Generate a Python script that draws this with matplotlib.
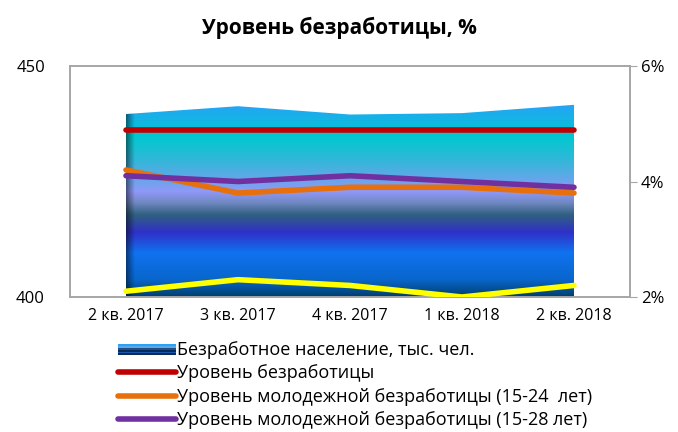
import numpy as np
import matplotlib
matplotlib.use("Agg")
import matplotlib.pyplot as plt
from matplotlib.colors import LinearSegmentedColormap
from matplotlib.legend_handler import HandlerBase
from matplotlib.lines import Line2D
from matplotlib.patches import Rectangle, Polygon

plt.rcParams["font.family"] = ["Open Sans", "DejaVu Sans"]

quarters = ["2 кв. 2017", "3 кв. 2017", "4 кв. 2017", "1 кв. 2018", "2 кв. 2018"]
unemployed = [439.6, 441.3, 439.5, 439.8, 441.6]      # тыс. чел., left axis
rate_total = [4.9, 4.9, 4.9, 4.9, 4.9]                # %, right axis
rate_15_24 = [4.2, 3.8, 3.9, 3.9, 3.8]
rate_15_28 = [4.1, 4.0, 4.1, 4.0, 3.9]
rate_other = [2.1, 2.3, 2.2, 2.0, 2.2]

labels = ["Безработное население, тыс. чел.", "Уровень безработицы",
          "Уровень молодежной безработицы (15-24  лет)",
          "Уровень молодежной безработицы (15-28 лет)"]

# vertical gradient of the area fill, (value on left axis, colour)
grad_stops = [(400.0, "#003f6e"), (403.7, "#0866cc"), (409.5, "#1072f0"),
              (413.9, "#3030c8"), (417.7, "#2f6080"), (420.3, "#7088c0"),
              (422.7, "#9098f8"), (425.8, "#60a8e8"), (429.7, "#30b8d8"),
              (434.6, "#00c8d0"), (438.3, "#14b4e4"), (442.0, "#2aa0f8")]

fig = plt.figure(figsize=(6.78, 4.32), dpi=100)
ax = fig.add_axes([0.1032, 0.3125, 0.826, 0.5347])
ax2 = ax.twinx()

x = np.arange(len(quarters))
ax.set_xlim(-0.5, len(quarters) - 0.5)
ax.set_ylim(400, 450)
ax2.set_ylim(2, 6)

lo, hi = grad_stops[0][0], grad_stops[-1][0]
cmap = LinearSegmentedColormap.from_list(
    "area", [((v - lo) / (hi - lo), c) for v, c in grad_stops])
grad = np.linspace(0, 1, 256).reshape(-1, 1)
poly = Polygon(np.column_stack([np.r_[x, x[::-1]],
                                np.r_[unemployed, np.full(len(x), 400.0)]]),
               closed=True, facecolor="none", edgecolor="none")
ax.add_patch(poly)
im = ax.imshow(grad, cmap=cmap, origin="lower", aspect="auto",
               extent=[x[0], x[-1], lo, hi], zorder=1)
im.set_clip_path(poly)
# darker left edge of the area
shade = np.linspace(0.5, 0, 64).reshape(1, -1)
sh = ax.imshow(np.zeros((1, 64)), cmap="gray", alpha=shade, aspect="auto",
               extent=[x[0], x[0] + 0.08, lo, hi], zorder=2)
sh.set_clip_path(poly)

kw = dict(lw=4, solid_capstyle="round", zorder=3)
ax2.plot(x, rate_total, color="#c00000", label=labels[1], **kw)
ax2.plot(x, rate_15_24, color="#e8700c", label=labels[2], **kw)
ax2.plot(x, rate_15_28, color="#7030a0", label=labels[3], **kw)
ax2.plot(x, rate_other, color="#ffff00", **kw)

for a in (ax, ax2):
    for s in a.spines.values():
        s.set_color("#a6a6a6")
        s.set_linewidth(1.2)
    a.set_facecolor("none")
ax.set_zorder(ax2.get_zorder() - 1)
ax2.patch.set_visible(False)

ax.set_yticks([400, 450])
ax.tick_params(axis="y", length=0, labelsize=12, pad=18)
ax.set_xticks(x)
ax.set_xticklabels(quarters)
ax.tick_params(axis="x", length=0, labelsize=11.5, pad=8)
ax2.set_yticks([2, 4, 6])
ax2.set_yticklabels(["2%", "4%", "6%"])
ax2.tick_params(axis="y", length=5, color="#a6a6a6", labelsize=12, pad=3)

fig.text(0.5, 0.935, "Уровень безработицы, %", ha="center", va="center",
         fontsize=15, fontweight="bold")


class GradientHandler(HandlerBase):
    def create_artists(self, legend, orig, xd, yd, w, h, fontsize, trans):
        cols = ["#2aa0f8", "#5aa8e8", "#1e4f86", "#0a2a5c", "#1a58b0", "#0a2a5c"]
        n = len(cols)
        return [Rectangle((xd, yd + h * (n - 1 - i) / n), w, h / n,
                          facecolor=c, edgecolor="none", transform=trans)
                for i, c in enumerate(cols)]


area_handle = Rectangle((0, 0), 1, 1)
handles = [area_handle] + [Line2D([], [], color=c, lw=4, solid_capstyle="round")
                           for c in ("#c00000", "#e8700c", "#7030a0")]
fig.legend(handles, labels, loc="upper left", bbox_to_anchor=(0.163, 0.228),
           frameon=False, fontsize=13, handlelength=3.2, handleheight=0.6,
           handletextpad=0.1, labelspacing=0.3, borderaxespad=0,
           handler_map={area_handle: GradientHandler()})

fig.savefig("out.png", dpi=100)
